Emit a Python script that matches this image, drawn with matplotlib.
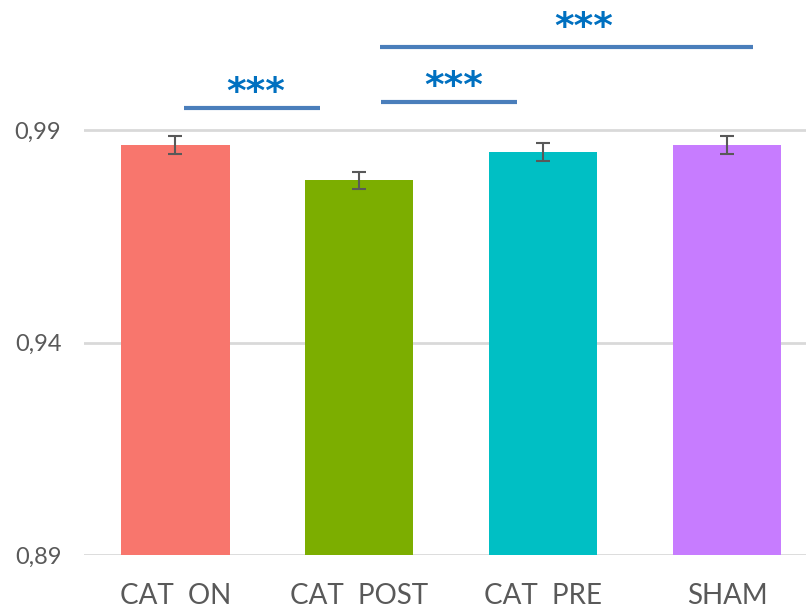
import matplotlib.pyplot as plt
import numpy as np

# data
groups = ['CAT  ON', 'CAT  POST', 'CAT  PRE', 'SHAM']
means = [0.9865, 0.9782, 0.9848, 0.9865]
errors = [0.0021, 0.0020, 0.0021, 0.0021]
colors = ['#F8766D', '#7CAE00', '#00BFC4', '#C77CFF']
yticks = [0.89, 0.94, 0.99]
ytick_labels = ['0,89', '0,94', '0,99']

# significance brackets
sig_x0 = [0.046, 1.117, 1.111]
sig_x1 = [0.785, 1.856, 3.143]
sig_y = [0.9953, 0.9966, 1.0095]
star_x = [0.437, 1.512, 2.223]
star_y = [0.9987, 1.0002, 1.0141]

plt.rcParams['font.family'] = ['Lato', 'DejaVu Sans']

fig = plt.figure(figsize=(8.06, 6.09), dpi=100)
ax = fig.add_axes([83.5 / 806, 54 / 609, (806 - 83.5) / 806, 555 / 609])

x = np.arange(len(groups))
ax.bar(x, [m - 0.89 for m in means], bottom=0.89, width=0.59, color=colors, zorder=2)
ax.errorbar(x, means, yerr=errors, fmt='none', ecolor='#595959', elinewidth=1.5,
            capsize=5, capthick=1.5, zorder=3)

ax.set_ylim(0.89, 1.0206)
ax.set_xlim(-0.5, 3.43)
ax.set_yticks(yticks)
ax.set_yticklabels(ytick_labels)
ax.set_xticks(x)
ax.set_xticklabels(groups)
ax.grid(axis='y', color='#D9D9D9', linewidth=2, zorder=0)
ax.tick_params(axis='y', length=0, pad=16, labelsize=17, labelcolor='#595959')
ax.tick_params(axis='x', length=0, pad=20, labelsize=20, labelcolor='#595959')
for s in ax.spines.values():
    s.set_visible(False)

for x0, x1, y in zip(sig_x0, sig_x1, sig_y):
    ax.plot([x0, x1], [y, y], color='#4A7EBB', linewidth=3, solid_capstyle='butt', clip_on=False)
for sx, sy in zip(star_x, star_y):
    ax.text(sx, sy, '***', ha='center', va='center', color='#0070C0',
            fontsize=27, fontweight='bold', family='DejaVu Sans')

fig.savefig('out.png')
